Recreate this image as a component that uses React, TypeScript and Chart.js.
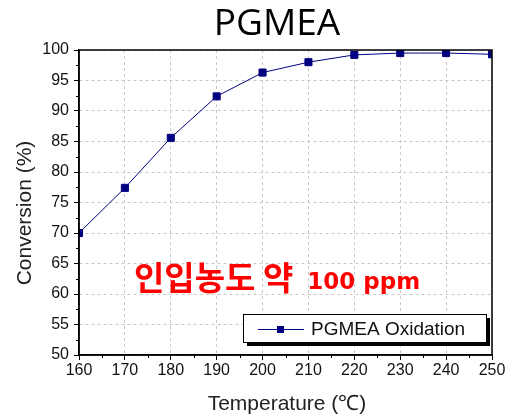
import React, { useEffect, useRef } from "react";
import { Chart, registerables } from "chart.js";

Chart.register(...registerables);

const temperatures = [160, 170, 180, 190, 200, 210, 220, 230, 240, 250];
const conversion = [70.0, 77.4, 85.6, 92.4, 96.3, 98.0, 99.2, 99.5, 99.5, 99.3];
const seriesName = "PGMEA Oxidation";
const chartTitle = "PGMEA";
const xTitle = "Temperature (℃)";
const yTitle = "Conversion (%)";
const noteKo = "인입농도 약";
const noteNum = "100 ppm";

const NAVY = "#000080";
const FONT = "'Liberation Sans', Arial, sans-serif";

const decor = {
  id: "decor",
  afterDraw(chart: any) {
    const { ctx, chartArea: a, scales } = chart;
    const xs = scales.x;
    const ys = scales.y;
    ctx.save();
    // frame
    ctx.strokeStyle = "#000";
    ctx.lineWidth = 1.5;
    ctx.strokeRect(a.left, a.top, a.right - a.left, a.bottom - a.top);
    // minor ticks
    ctx.lineWidth = 1;
    ctx.beginPath();
    for (let v = 165; v < 250; v += 10) {
      const px = Math.round(xs.getPixelForValue(v)) + 0.5;
      ctx.moveTo(px, a.bottom);
      ctx.lineTo(px, a.bottom + 3);
    }
    for (let v = 52.5; v < 100; v += 5) {
      const py = Math.round(ys.getPixelForValue(v)) + 0.5;
      ctx.moveTo(a.left, py);
      ctx.lineTo(a.left - 3, py);
    }
    ctx.stroke();

    // title
    ctx.fillStyle = "#000";
    ctx.textAlign = "center";
    ctx.textBaseline = "alphabetic";
    ctx.font = `37px 'Open Sans', sans-serif`;
    ctx.fillText(chartTitle, 277, 35);

    // axis titles
    ctx.font = `21px ${FONT}`;
    ctx.fillStyle = "#222";
    ctx.fillText(xTitle, 287, 410);
    ctx.save();
    ctx.translate(31, 213);
    ctx.rotate(-Math.PI / 2);
    ctx.fillText(yTitle, 0, 0);
    ctx.restore();

    // red annotation
    ctx.fillStyle = "#ff0000";
    ctx.textAlign = "left";
    ctx.font = `bold 33px 'Noto Sans CJK KR', sans-serif`;
    ctx.fillText(noteKo, 134, 290);
    const w = ctx.measureText(noteKo).width;
    ctx.font = `bold 23px 'DejaVu Sans', sans-serif`;
    ctx.fillText(noteNum, 134 + w + 14, 289);

    // legend
    const lx = 243, ly = 314, lw = 243, lh = 28;
    ctx.fillStyle = "#000";
    ctx.fillRect(lx + 4, ly + 4, lw, lh);
    ctx.fillStyle = "#fff";
    ctx.fillRect(lx, ly, lw, lh);
    ctx.strokeStyle = "#000";
    ctx.lineWidth = 1;
    ctx.strokeRect(lx + 0.5, ly + 0.5, lw, lh);
    ctx.strokeStyle = NAVY;
    ctx.beginPath();
    ctx.moveTo(258, ly + 15.5);
    ctx.lineTo(304, ly + 15.5);
    ctx.stroke();
    ctx.fillStyle = NAVY;
    ctx.fillRect(277, ly + 12, 7, 7);
    ctx.fillStyle = "#111";
    ctx.font = `19px ${FONT}`;
    ctx.textBaseline = "middle";
    ctx.fillText(seriesName, 311, ly + 16);
    ctx.restore();
  },
};

export default function App() {
  const ref = useRef<HTMLCanvasElement>(null);
  useEffect(() => {
    const chart = new Chart(ref.current!, {
      type: "line",
      data: {
        datasets: [
          {
            label: seriesName,
            data: temperatures.map((t, i) => ({ x: t, y: conversion[i] })),
            borderColor: NAVY,
            backgroundColor: NAVY,
            borderWidth: 1,
            pointStyle: "rect",
            pointRadius: 5,
            pointHoverRadius: 5,
            tension: 0,
          },
        ],
      },
      options: {
        animation: false,
        responsive: false,
        events: [],
        layout: { padding: { top: 50, right: 17, left: 0, bottom: 0 } },
        plugins: { legend: { display: false }, tooltip: { enabled: false }, title: { display: false } },
        scales: {
          x: {
            type: "linear",
            min: 160,
            max: 250,
            afterFit: (s: any) => {
              s.height = 64;
            },
            ticks: { stepSize: 10, color: "#111", font: { size: 16, family: FONT }, padding: 1, maxRotation: 0 },
            grid: { color: "#c8c8c8", tickColor: "#000", tickLength: 5, tickBorderDash: [] },
            border: { display: true, color: "#000", width: 1.5, dash: [3, 3] },
          },
          y: {
            type: "linear",
            min: 50,
            max: 100,
            afterFit: (s: any) => {
              s.width = 79;
            },
            ticks: { stepSize: 5, color: "#111", font: { size: 16, family: FONT }, padding: 5 },
            grid: { color: "#c8c8c8", tickColor: "#000", tickLength: 5, tickBorderDash: [] },
            border: { display: true, color: "#000", width: 1.5, dash: [3, 3] },
          },
        },
      },
      plugins: [decor],
    });
    return () => chart.destroy();
  }, []);
  return (
    <div style={{ position: "fixed", left: 0, top: 0, width: 509, height: 419, background: "#fff" }}>
      <canvas ref={ref} width={509} height={419} />
    </div>
  );
}
